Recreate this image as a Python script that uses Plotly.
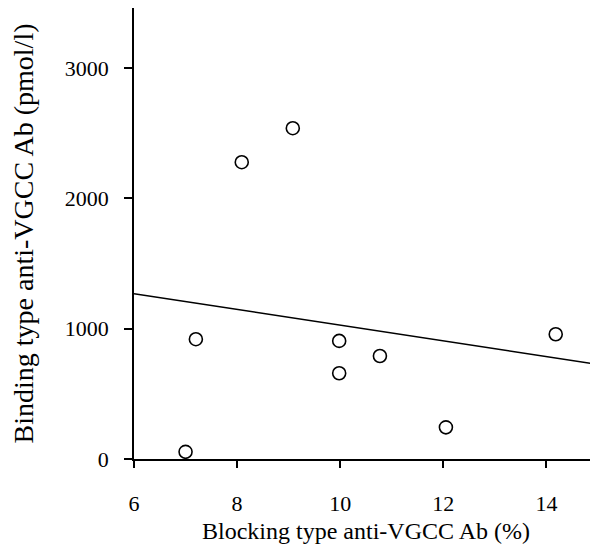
import numpy as np
import plotly.graph_objects as go

# Data
blocking_pct = [7.0, 7.2, 8.09, 9.08, 9.98, 9.98, 10.77, 12.05, 14.18]
binding_pmol = [55, 919, 2277, 2538, 906, 658, 790, 243, 957]

x_ticks = [6, 8, 10, 12, 14]
y_ticks = [0, 1000, 2000, 3000]
x_range = [6, 15]
y_range = [0, 3460]

# Least-squares regression line
slope, intercept = np.polyfit(blocking_pct, binding_pmol, 1)
fit_x = np.array(x_range, dtype=float)
fit_y = slope * fit_x + intercept

FONT = "Liberation Serif"

fig = go.Figure()
fig.add_trace(go.Scatter(
    x=fit_x, y=fit_y, mode="lines",
    line=dict(color="black", width=1.6),
    showlegend=False, hoverinfo="skip", cliponaxis=False,
))
fig.add_trace(go.Scatter(
    x=blocking_pct, y=binding_pmol, mode="markers",
    marker=dict(symbol="circle-open", size=13, color="black",
                line=dict(width=1.6, color="black")),
    showlegend=False, cliponaxis=False,
))

# page body has an 8px margin, so the figure is kept inside the window
fig.update_layout(
    width=590, height=538,
    margin=dict(l=126, r=0, t=0, b=87),
    paper_bgcolor="white", plot_bgcolor="white",
    font=dict(family=FONT, size=22, color="black"),
    showlegend=False,
)
fig.update_xaxes(
    range=x_range, tickvals=x_ticks, ticktext=[str(v) for v in x_ticks],
    showgrid=False, zeroline=False,
    showline=True, linecolor="black", linewidth=1.5,
    ticks="outside", ticklen=7, tickwidth=1.5, tickcolor="black",
    ticklabelstandoff=17,
    tickfont=dict(family=FONT, size=22),
    title=dict(text="Blocking type anti-VGCC Ab (%)",
               font=dict(family=FONT, size=24), standoff=7),
)
fig.update_yaxes(
    range=y_range, tickvals=y_ticks, ticktext=[str(v) for v in y_ticks],
    showgrid=False, zeroline=False,
    showline=True, linecolor="black", linewidth=1.5,
    ticks="outside", ticklen=8, tickwidth=1.5, tickcolor="black",
    ticklabelstandoff=11,
    tickfont=dict(family=FONT, size=22),
    title=dict(text="Binding type anti-VGCC Ab (pmol/l)",
               font=dict(family=FONT, size=28), standoff=26),
)

fig.write_html("out.html")
